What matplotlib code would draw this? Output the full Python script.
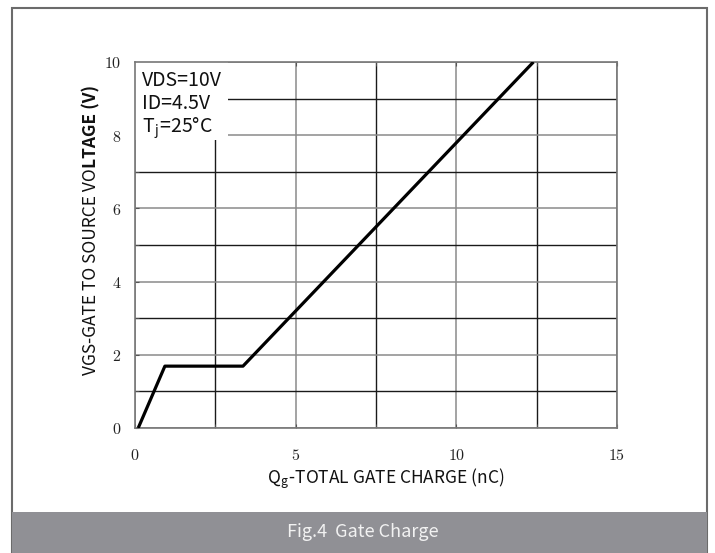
import matplotlib
matplotlib.use('Agg')
from matplotlib import pyplot as plt
from matplotlib.patches import Rectangle
from matplotlib.ticker import MultipleLocator, FuncFormatter

# gate charge curve
qg = [0.1, 0.93, 3.36, 12.4]
vgs = [0.0, 1.69, 1.69, 10.0]

x_ticks = [0, 5, 10, 15]
y_ticks = [0, 2, 4, 6, 8, 10]
notes = ['VDS=10V', 'ID=4.5V', r'T$_\mathregular{j}$=25°C']

plt.rcParams['font.family'] = ['Noto Sans CJK SC', 'DejaVu Sans']
plt.rcParams['mathtext.fontset'] = 'cm'

fig = plt.figure(figsize=(7.15, 5.53), dpi=100)
W, H = 715, 553

# outer frame and caption band
fig.patches.append(Rectangle((12 / W, 0), 695 / W, 1 - 8 / H,
                             transform=fig.transFigure, fill=False,
                             edgecolor='#6b6b6b', linewidth=1.5, zorder=0))
fig.patches.append(Rectangle((12 / W, 0), 695 / W, 41 / H,
                             transform=fig.transFigure, facecolor='#909095',
                             edgecolor='none', zorder=1))
fig.text(0.507, 21 / H, 'Fig.4  Gate Charge', color='#f2f2f2', fontsize=13,
         ha='center', va='center')

ax = fig.add_axes([135 / W, 125 / H, 482 / W, 366 / H])
ax.set_xlim(0, 15)
ax.set_ylim(0, 10)
ax.xaxis.set_minor_locator(MultipleLocator(2.5))
ax.yaxis.set_minor_locator(MultipleLocator(1))
ax.set_xticks(x_ticks)
ax.set_yticks(y_ticks)
ax.xaxis.set_major_formatter(FuncFormatter(lambda v, p: f'${v:g}$'))
ax.yaxis.set_major_formatter(FuncFormatter(lambda v, p: f'${v:g}$'))

ax.grid(which='major', color='#8a8a8a', linewidth=1.1)
ax.grid(which='minor', color='#1a1a1a', linewidth=1.0)
ax.tick_params(which='both', direction='in', length=3, color='#555555',
               top=True, right=False)
ax.tick_params(axis='x', which='major', pad=14, labelsize=11.5, labelcolor='#222222')
ax.tick_params(axis='y', which='major', pad=10, labelsize=11.5, labelcolor='#222222')
for s in ax.spines.values():
    s.set_color('#777777')
    s.set_linewidth(1.2)

# white box behind the condition notes
ax.add_patch(Rectangle((0, 7.87), 2.9, 2.13, facecolor='white',
                       edgecolor='none', zorder=2))
for i, t in enumerate(notes):
    ax.text(0.22, 9.5 - i * 0.64, t, fontsize=14, color='#111111',
            ha='left', va='center', zorder=3)

ax.plot(qg, vgs, color='black', linewidth=2.3, zorder=4, solid_capstyle='butt')

ax.set_xlabel(r'Q$_\mathregular{g}$-TOTAL GATE CHARGE (nC)', fontsize=12.5,
              color='#111111')
ax.xaxis.set_label_coords(0.52, -0.105)

# y label: first half regular, the rest bold
ysplit = 1 - 168 / H
fig.text(91 / W, ysplit, 'VGS-GATE TO SOURCE VO', rotation=90,
         rotation_mode='anchor', ha='right', va='center', fontsize=12.5,
         color='#111111')
fig.text(91 / W, ysplit, 'LTAGE (V)', rotation=90, rotation_mode='anchor',
         ha='left', va='center', fontsize=12.5, fontweight='bold',
         color='#111111')

fig.savefig('out.png', dpi=100)
